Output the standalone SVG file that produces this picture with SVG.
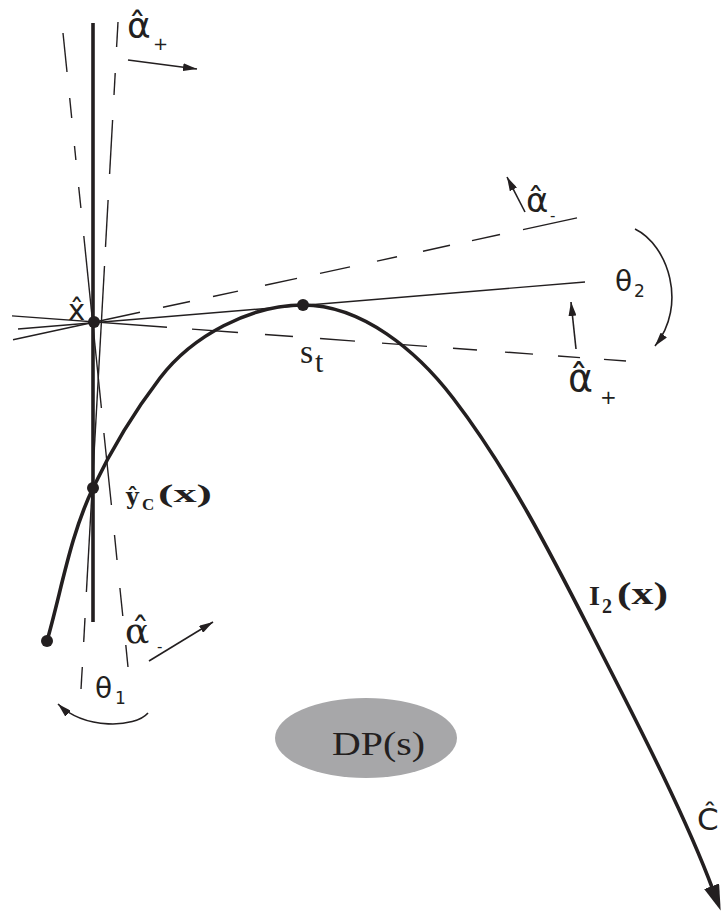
<svg xmlns="http://www.w3.org/2000/svg" width="723" height="917" viewBox="0 0 723 917">
<defs>
<style>
.thin{stroke:#231f20;stroke-width:1.4;fill:none}
.thick{stroke:#231f20;stroke-width:3.6;fill:none}
.arr{stroke:#231f20;stroke-width:1.6;fill:none;marker-end:url(#ah)}
.dot{fill:#231f20}
.sans{font-family:"DejaVu Sans","Liberation Sans",sans-serif;fill:#231f20}
.dserif{font-family:"DejaVu Serif","Liberation Serif",serif;fill:#231f20}
.serif{font-family:"Liberation Serif","DejaVu Serif",serif;fill:#231f20}
.bold{font-weight:bold}
</style>
<marker id="ah" markerUnits="userSpaceOnUse" viewBox="0 0 14 8" markerWidth="14" markerHeight="8" refX="14" refY="4" orient="auto"><path d="M0,0 L14,4 L0,8 z" fill="#231f20"/></marker>
<marker id="big" markerUnits="userSpaceOnUse" viewBox="0 0 26 16" markerWidth="26" markerHeight="16" refX="4" refY="8" orient="auto"><path d="M0,0 L26,8 L0,16 z" fill="#231f20"/></marker>
</defs>
<rect width="723" height="917" fill="#ffffff"/>

<g id="vertical-lines">
<line class="thick" x1="93" y1="23" x2="93" y2="622"/>
<g id="line-a" class="thin">
<line x1="63" y1="33" x2="67" y2="72"/>
<line x1="69.7" y1="98" x2="71.7" y2="118"/>
<line x1="74.5" y1="146" x2="75.9" y2="160"/>
<line x1="78.7" y1="187" x2="80.9" y2="208"/>
<line x1="83.8" y1="236" x2="101.4" y2="408"/>
<line x1="103.9" y1="433" x2="111.4" y2="505"/>
<line x1="114.5" y1="535" x2="117" y2="560"/>
<line x1="119.9" y1="588" x2="122.8" y2="616"/>
<line x1="125.8" y1="645" x2="128" y2="667"/>
</g>
<g id="line-b" class="thin">
<line x1="118" y1="22" x2="116.6" y2="47"/>
<line x1="115.2" y1="73" x2="114" y2="95"/>
<line x1="112.6" y1="120" x2="109.6" y2="174"/>
<line x1="108.1" y1="200" x2="105.5" y2="247"/>
<line x1="104.5" y1="266" x2="86.4" y2="592"/>
<line x1="85" y1="618" x2="83.7" y2="642"/>
<line x1="82.3" y1="667" x2="81" y2="689"/>
</g>
</g>

<g id="tangent-lines">
<line class="thin" x1="18" y1="329" x2="585" y2="282"/>
<g id="upper-dashed" class="thin">
<line x1="13" y1="339.7" x2="140" y2="312.3"/>
<line x1="163" y1="307.3" x2="190" y2="301.5"/>
<line x1="213" y1="296.5" x2="238" y2="291.1"/>
<line x1="265" y1="285.3" x2="297" y2="278.4"/>
<line x1="320" y1="273.4" x2="350" y2="266.9"/>
<line x1="377" y1="261.1" x2="397" y2="256.8"/>
<line x1="423" y1="251.2" x2="450" y2="245.3"/>
<line x1="472" y1="240.6" x2="500" y2="234.5"/>
<line x1="523" y1="229.6" x2="577" y2="217.9"/>
</g>
<g id="lower-dashed" class="thin">
<line x1="12" y1="315.9" x2="167" y2="327.3"/>
<line x1="192" y1="329.1" x2="238" y2="332.5"/>
<line x1="265" y1="334.5" x2="293" y2="336.5"/>
<line x1="320" y1="338.5" x2="355" y2="341.1"/>
<line x1="382" y1="343.1" x2="427" y2="346.4"/>
<line x1="453" y1="348.3" x2="477" y2="350"/>
<line x1="505" y1="352.1" x2="533" y2="354.1"/>
<line x1="558" y1="356" x2="580" y2="357.6"/>
<line x1="604" y1="359.4" x2="626" y2="361"/>
</g>
</g>

<g id="curve-c">
<path class="thick" marker-end="url(#big)" d="M47,641 C61.6,590 70,536 93,488 C111.5,449.3 134,412 160,378 C192,336 250,305 303,305 C362,305 417,351 453,398 C512,475 556,564 600,650 C628,705 684,812 713,890"/>
</g>

<g id="connectors">
<line class="arr" x1="128" y1="60" x2="197" y2="69"/>
<line class="arr" x1="525" y1="212" x2="507" y2="177"/>
<line class="arr" x1="576" y1="349" x2="571" y2="302"/>
<line class="arr" x1="149" y1="661" x2="213" y2="622"/>
<path class="arr" d="M635,229 C668,245 688,305 655,346"/>
<path class="arr" d="M148,713 C135,728 85,730 58,704"/>
</g>

<g id="point-x-hat">
<circle class="dot" cx="94" cy="322" r="6"/>
<text class="sans" x="68" y="320" font-size="29">x̂</text>
</g>
<g id="point-s-t">
<circle class="dot" cx="303" cy="305" r="6"/>
<text class="serif" x="300" y="363" font-size="34">s</text>
<text class="serif" x="315" y="372" font-size="30">t</text>
</g>
<g id="point-y-c">
<circle class="dot" cx="93" cy="488" r="6"/>
<text class="dserif bold" x="126" y="504" font-size="22">ŷ</text>
<text class="serif bold" x="142" y="510" font-size="17">C</text>
<text class="serif bold" x="158" y="502" font-size="26" textLength="54" lengthAdjust="spacingAndGlyphs">(x)</text>
</g>
<g id="point-start">
<circle class="dot" cx="47" cy="641" r="6"/>
</g>

<g id="labels">
<g id="alpha-plus-top">
<text class="sans" x="127" y="38" font-size="36">α̂</text>
<text class="sans" x="153" y="50" font-size="18">+</text>
</g>
<g id="alpha-minus-top">
<text class="sans" x="526" y="212" font-size="34">α̂</text>
<text class="sans" x="550" y="221" font-size="15">-</text>
</g>
<g id="alpha-plus-right">
<text class="sans" x="568" y="391" font-size="38">α̂</text>
<text class="sans" x="600" y="404" font-size="20">+</text>
</g>
<g id="alpha-minus-left">
<text class="dserif" x="125" y="643" font-size="36">α̂</text>
<text class="sans" x="157" y="652" font-size="15">-</text>
</g>
<g id="theta-2">
<text class="sans" x="615" y="291" font-size="28">θ</text>
<text class="sans" x="634" y="297" font-size="17">2</text>
</g>
<g id="theta-1">
<text class="sans" x="95" y="698" font-size="28">θ</text>
<text class="sans" x="115" y="704" font-size="17">1</text>
</g>
<g id="label-i2">
<text class="serif bold" x="589" y="605" font-size="28" textLength="11" lengthAdjust="spacingAndGlyphs">I</text>
<text class="serif bold" x="602" y="613" font-size="20">2</text>
<text class="serif bold" x="617" y="604" font-size="32" textLength="51" lengthAdjust="spacingAndGlyphs">(x)</text>
</g>
<g id="label-c-hat">
<text class="sans" x="697" y="830" font-size="31">Ĉ</text>
</g>
</g>

<g id="node-dp-s">
<ellipse cx="366" cy="738" rx="91" ry="40" fill="#a7a7a9"/>
<text class="serif" x="332" y="755" font-size="34" textLength="93" lengthAdjust="spacingAndGlyphs">DP(s)</text>
</g>
</svg>
